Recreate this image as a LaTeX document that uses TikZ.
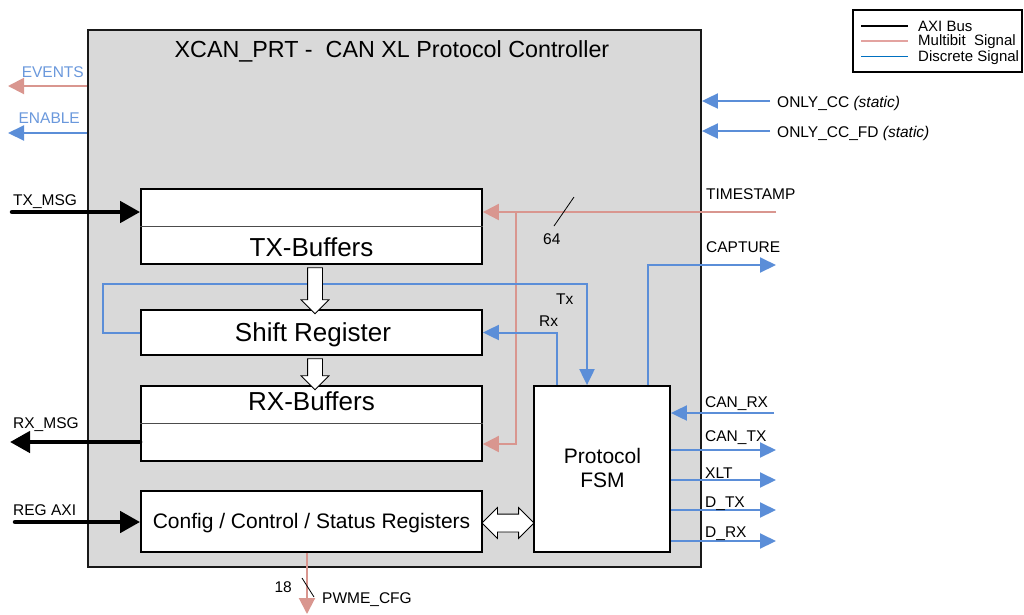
\documentclass[tikz,border=0pt]{standalone}
\usepackage{fontspec}
\setmainfont{Liberation Sans}
\usetikzlibrary{arrows.meta, positioning, calc, shapes.arrows}
\definecolor{PanelGray}{HTML}{D9D9D9}
\definecolor{SigBlue}{HTML}{5B8ED8}
\definecolor{SigPink}{HTML}{D9968F}
\definecolor{LegBlue}{HTML}{0070C0}
\definecolor{LegPink}{HTML}{E3A3A0}
\definecolor{LabelBlue}{HTML}{6A98DC}

\begin{document}
\begin{tikzpicture}[x=1pt, y=-1pt,
    blk/.style={draw=black, line width=1.8pt, fill=white, inner sep=0pt},
    big/.style={font=\fontsize{26}{30}\selectfont, inner sep=0pt},
    lbl/.style={font=\fontsize{15.5}{18}\selectfont, inner sep=0pt},
    legtxt/.style={font=\fontsize{15}{15}\selectfont, inner sep=0pt, anchor=base west},
    axi/.style={line width=4.5pt, line cap=round, -{Triangle[length=20pt, width=21pt]}},
    disc/.style={SigBlue, line width=2pt, -{Triangle[length=16pt, width=15pt]}},
    multi/.style={SigPink, line width=2pt, -{Triangle[length=16pt, width=16pt]}},
    hollow/.style={single arrow, draw=black, line width=0.8pt, fill=white,
                   inner xsep=0pt, inner ysep=7pt, minimum width=27pt,
                   single arrow head extend=6.5pt, rotate=-90}
]
    \useasboundingbox (0,0) rectangle (1024,614);

    % Controller panel
    \node[draw=black!90, line width=1.8pt, fill=PanelGray, inner sep=0pt,
          minimum width=613pt, minimum height=537pt] (prt) at (394.5,298.5) {};
    \node[font=\fontsize{23.3}{27}\selectfont, anchor=base] (title) at (392,57)
        {XCAN\_PRT -\ \ CAN XL Protocol Controller};

    % Legend
    \node[draw=black, line width=1.5pt, inner sep=0pt,
          minimum width=169pt, minimum height=62pt] (legend) at (937.5,41) {};
    \draw[black, line width=1.5pt] (861,26) -- (908,26);
    \draw[LegPink, line width=1.5pt] (861,41) -- (908,41);
    \draw[LegBlue, line width=1.5pt] (861,56.5) -- (908,56.5);
    \node[legtxt] (legaxi) at (918,31) {AXI Bus};
    \node[legtxt] (legmulti) at (918,45) {Multibit\ \ Signal};
    \node[legtxt] (legdisc) at (918,61) {Discrete Signal};

    % Inner blocks
    \node[blk, minimum width=341pt, minimum height=75pt] (txbuf) at (311.5,226.5) {};
    \node[blk, minimum width=341pt, minimum height=45pt] (shreg) at (311.5,332.5) {};
    \node[blk, minimum width=341pt, minimum height=75pt] (rxbuf) at (311.5,423.5) {};
    \node[blk, minimum width=341pt, minimum height=61pt] (cfgreg) at (311.5,521.5) {};
    \node[blk, minimum width=136pt, minimum height=166pt] (fsm) at (602,469) {};
    \draw[black!70, line width=0.8pt] (txbuf.west) -- (txbuf.east);
    \draw[black!70, line width=0.8pt] (rxbuf.west) -- (rxbuf.east);

    \node[big, anchor=base] (txlbl) at (311.5,256) {TX-Buffers};
    \node[big, anchor=base] (shlbl) at (313,341) {Shift Register};
    \node[big, anchor=base] (rxlbl) at (311.5,410) {RX-Buffers};
    \node[font=\fontsize{21}{24}\selectfont, inner sep=0pt, anchor=base] (cfglbl)
        at (311.5,528) {Config / Control / Status Registers};
    \node[font=\fontsize{21}{24}\selectfont, inner sep=0pt, align=center, anchor=base]
        (fsmlbl) at (602.5,487) {Protocol\\FSM};

    % Left side signals
    \coordinate (evtout) at (8,86);
    \coordinate (enout) at (8,133);
    \draw[multi] (prt.west |- evtout) -- (evtout);
    \draw[disc] (prt.west |- enout) -- (enout);
    \node[lbl, text=LabelBlue, anchor=base east] (evtlbl) at (84,77) {EVENTS};
    \node[lbl, text=LabelBlue, anchor=base east] (enlbl) at (80,123) {ENABLE};

    \coordinate (txin) at (12,212);
    \coordinate (rxout) at (10,442);
    \coordinate (regin) at (15,522);
    \draw[axi] (txin) -- (txin -| txbuf.west);
    \draw[axi] (rxout -| rxbuf.west) -- (rxout);
    \draw[axi] (regin) -- (regin -| cfgreg.west);
    \node[lbl, anchor=base west] (txmsg) at (13,205) {TX\_MSG};
    \node[lbl, anchor=base west] (rxmsg) at (13,428) {RX\_MSG};
    \node[lbl, anchor=base west] (regaxi) at (13,515) {REG AXI};

    % Static inputs
    \coordinate (occ) at (770,101);
    \coordinate (occfd) at (770,131);
    \draw[disc] (occ) -- (occ -| prt.east);
    \draw[disc] (occfd) -- (occfd -| prt.east);
    \node[lbl, anchor=base west] (occlbl) at (777,107) {ONLY\_CC \textit{(static)}};
    \node[lbl, anchor=base west] (occfdlbl) at (777,137) {ONLY\_CC\_FD \textit{(static)}};

    % Timestamp
    \coordinate (tsin) at (776,212);
    \coordinate (tsj) at (516,212);
    \draw[multi] (tsin) -- (tsin -| txbuf.east);
    \draw[multi] (tsj) |- ($(rxbuf.east)+(0,20.5)$);
    \draw[black, line width=0.8pt] (574,197) -- (554,226);
    \node[lbl, anchor=base west] (w64) at (543,244) {64};
    \node[lbl, anchor=base west] (tslbl) at (706,199) {TIMESTAMP};

    % FSM links
    \coordinate (capout) at (776,265);
    \draw[disc] ($(fsm.north)+(46,0)$) |- (capout);
    \node[lbl, anchor=base west] (caplbl) at (706,252) {CAPTURE};
    \draw[disc] ($(fsm.north)+(-45,0)$) |- (shreg.east);
    \draw[disc] (shreg.west) -| (103,284) -| ($(fsm.north)+(-15,0)$);
    \node[lbl, anchor=base west] (txtag) at (556,304) {Tx};
    \node[lbl, anchor=base west] (rxtag) at (539,326) {Rx};

    % CAN side
    \coordinate (canrx) at (774,413);
    \draw[disc] (canrx) -- (canrx -| fsm.east);
    \node[lbl, anchor=base west] (canrxlbl) at (705,407) {CAN\_RX};
    \foreach \sy/\by/\txt [count=\i] in {450/441/{CAN\_TX}, 480/478/{XLT},
                                          510/507/{D\_TX}, 541/537/{D\_RX}} {
        \coordinate (out\i) at (776,\sy);
        \draw[disc] (out\i -| fsm.east) -- (out\i);
        \node[lbl, anchor=base west] (outlbl\i) at (705,\by) {\txt};
    }

    % PWME config
    \coordinate (pwme) at (307,614);
    \draw[multi] (cfgreg.south -| pwme) -- (pwme);
    \draw[black, line width=0.8pt] (302,578) -- (314,597);
    \node[lbl, anchor=base east] (w18) at (292,592) {18};
    \node[lbl, anchor=base west] (pwmelbl) at (322,603) {PWME\_CFG};

    % Data paths
    \node[hollow, minimum height=46pt] (txtosh) at (315,287) {};
    \node[hollow, minimum height=31pt] (shtorx) at (315,370.5) {};
    \node[double arrow, draw=black, line width=0.8pt, fill=white,
          inner xsep=0pt, inner ysep=8.5pt, minimum width=30pt, minimum height=52pt,
          double arrow head extend=6.5pt] (cfgfsm) at (508,523) {};
\end{tikzpicture}
\end{document}
